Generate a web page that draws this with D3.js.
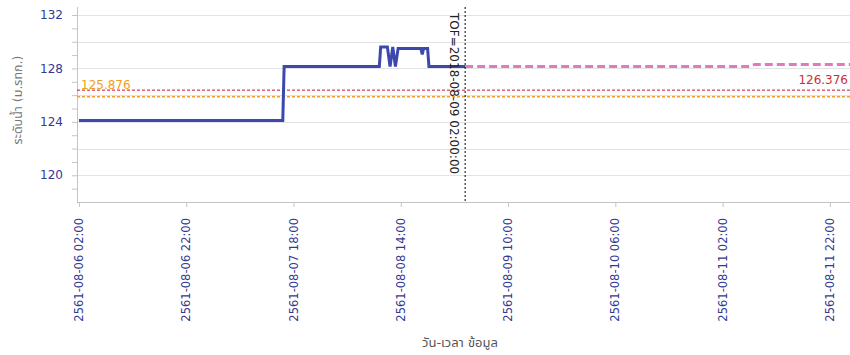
<!DOCTYPE html>
<html>
<head>
<meta charset="utf-8">
<script src="https://cdn.jsdelivr.net/npm/d3@7"></script>
<style>
  html, body { margin: 0; padding: 0; background: #fff; }
  svg { display: block; font-family: "DejaVu Sans", Tahoma, "Noto Sans Thai", sans-serif; }
</style>
</head>
<body>
<svg id="chart" width="850" height="355"></svg>
<script>
// ---- data ----
const observedTimes = [
  "2018-08-06 02:00", "2018-08-07 16:00", "2018-08-07 16:15", "2018-08-08 10:00",
  "2018-08-08 10:15", "2018-08-08 11:30", "2018-08-08 12:00", "2018-08-08 12:30",
  "2018-08-08 13:00", "2018-08-08 13:30", "2018-08-08 17:45", "2018-08-08 18:00",
  "2018-08-08 18:15", "2018-08-08 19:00", "2018-08-08 19:15", "2018-08-09 02:00"
];
const observedValues = [
  124.1, 124.1, 128.15, 128.15,
  129.6, 129.6, 128.15, 129.6,
  128.15, 129.5, 129.5, 129.05,
  129.5, 129.5, 128.15, 128.15
];
const forecastTimes = ["2018-08-09 02:00", "2018-08-11 07:00", "2018-08-11 08:00", "2018-08-12 01:45"];
const forecastValues = [128.15, 128.15, 128.3, 128.3];

const redLevel = 126.376;
const orangeLevel = 125.876;
const tofTime = "2018-08-09 02:00";
const tofLabel = "TOF=2018-08-09 02:00:00";

const xTickTimes = [
  "2018-08-06 02:00", "2018-08-06 22:00", "2018-08-07 18:00", "2018-08-08 14:00",
  "2018-08-09 10:00", "2018-08-10 06:00", "2018-08-11 02:00", "2018-08-11 22:00"
];
const yLabelTicks = [120, 124, 128, 132];
const yGridTicks = [120, 122, 124, 126, 128, 130, 132];
const yMinorTicks = [119, 120, 121, 122, 123, 124, 125, 126, 127, 128, 129, 130, 131, 132];
const xDomain = ["2018-08-06 01:38", "2018-08-12 01:45"];
const yDomain = [118, 132.6];

const xTitle = "วัน-เวลา ข้อมูล";
const yTitle = "ระดับน้ำ (ม.รทก.)";

// ---- chart ----
const parse = d3.timeParse("%Y-%m-%d %H:%M");
const pL = 77, pR = 850, pT = 7, pB = 202;
const svg = d3.select("#chart");

const x = d3.scaleTime().domain(xDomain.map(parse)).range([pL, pR]);
const y = d3.scaleLinear().domain(yDomain).range([pB, pT]);

const navy = "#333a92";
const axisGray = "#c4c4c4";

// gridlines
svg.append("g").selectAll("line").data(yGridTicks).join("line")
  .attr("x1", pL).attr("x2", pR)
  .attr("y1", d => Math.round(y(d)) + 0.5).attr("y2", d => Math.round(y(d)) + 0.5)
  .attr("stroke", "#e3e3e3").attr("stroke-width", 1);

// y axis
const yAxis = svg.append("g").attr("transform", `translate(${pL},0)`)
  .call(d3.axisLeft(y).tickValues(yMinorTicks).tickSize(5).tickFormat(""));
yAxis.select(".domain").attr("stroke", axisGray).attr("d", `M0.5,${pT}V${pB}`);
yAxis.selectAll(".tick line").attr("stroke", axisGray);

svg.append("g").selectAll("text").data(yLabelTicks).join("text")
  .attr("x", 63).attr("y", d => y(d)).attr("dy", "0.35em")
  .attr("text-anchor", "end").attr("fill", navy).attr("font-size", 12)
  .text(d => d);

// x axis
const xAxis = svg.append("g").attr("transform", `translate(0,${pB})`)
  .call(d3.axisBottom(x).tickValues(xTickTimes.map(parse)).tickSize(5).tickFormat(""));
xAxis.select(".domain").attr("stroke", axisGray).attr("d", `M${pL},0.5H${pR}`);
xAxis.selectAll(".tick line").attr("stroke", axisGray);

const fmt = d => (d.getFullYear() + 543) + d3.timeFormat("-%m-%d %H:%M")(d);
svg.append("g").selectAll("text").data(xTickTimes.map(parse)).join("text")
  .attr("transform", d => `translate(${x(d)},${pB + 16}) rotate(-90)`)
  .attr("dy", "0.35em").attr("text-anchor", "end")
  .attr("fill", navy).attr("font-size", 11.5)
  .text(fmt);

// reference lines
svg.append("line")
  .attr("x1", pL).attr("x2", pR).attr("y1", y(redLevel)).attr("y2", y(redLevel))
  .attr("stroke", "#c8102e").attr("stroke-width", 1).attr("stroke-dasharray", "3,2");
svg.append("line")
  .attr("x1", pL).attr("x2", pR).attr("y1", y(orangeLevel)).attr("y2", y(orangeLevel))
  .attr("stroke", "#f0a030").attr("stroke-width", 1.5).attr("stroke-dasharray", "3,2");

svg.append("text").attr("x", 848).attr("y", y(redLevel) - 6)
  .attr("text-anchor", "end").attr("fill", "#c83232").attr("font-size", 12)
  .text(redLevel.toFixed(3));
svg.append("text").attr("x", 81).attr("y", y(redLevel) - 1)
  .attr("text-anchor", "start").attr("fill", "#f0a020").attr("font-size", 12)
  .text(orangeLevel.toFixed(3));

// series
const line = d3.line().x(d => x(d[0])).y(d => y(d[1]));
const obs = observedTimes.map((t, i) => [parse(t), observedValues[i]]);
const fc = forecastTimes.map((t, i) => [parse(t), forecastValues[i]]);

svg.append("path").datum(fc).attr("d", line)
  .attr("fill", "none").attr("stroke", "#e07ac0").attr("stroke-width", 3)
  .attr("stroke-dasharray", "8,4");
svg.append("path").datum(obs).attr("d", line)
  .attr("fill", "none").attr("stroke", "#3d48ad").attr("stroke-width", 3)
  .attr("stroke-linejoin", "miter");

// TOF
const tx = x(parse(tofTime));
svg.append("line").attr("x1", tx).attr("x2", tx).attr("y1", pT).attr("y2", pB)
  .attr("stroke", "#000").attr("stroke-width", 1).attr("stroke-dasharray", "2,2");
svg.append("text")
  .attr("transform", `translate(${tx - 15},${pT + 6}) rotate(90)`)
  .attr("text-anchor", "start").attr("fill", "#222").attr("font-size", 12)
  .text(tofLabel);

// axis titles
svg.append("text").attr("x", 460).attr("y", 347).attr("text-anchor", "middle")
  .attr("fill", "#555").attr("font-size", 13).text(xTitle);
svg.append("text")
  .attr("transform", `translate(22,${100}) rotate(-90)`)
  .attr("text-anchor", "middle").attr("fill", "#777").attr("font-size", 12.5)
  .text(yTitle);
</script>
</body>
</html>
